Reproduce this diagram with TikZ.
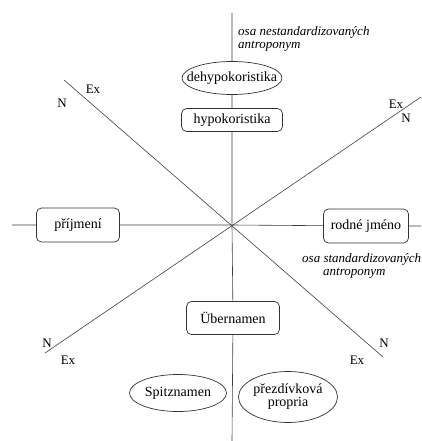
\documentclass[tikz,border=0pt]{standalone}
\usepackage{fontspec}
\setmainfont{Liberation Serif}
\usetikzlibrary{shapes.geometric}
\begin{document}
\begin{tikzpicture}[x=1pt,y=-1pt,
  axis/.style={draw=black!75,line width=0.6pt},
  box/.style={draw=black!80,line width=0.7pt,rounded corners=5pt,fill=white,
    inner sep=0pt,font=\fontsize{14}{16}\selectfont},
  oval/.style={draw=black!80,line width=0.7pt,ellipse,fill=white,inner sep=0pt,
    font=\fontsize{14}{15}\selectfont},
  tag/.style={inner sep=0pt,font=\fontsize{13}{14}\selectfont},
  axisname/.style={inner sep=0pt,align=left,font=\fontsize{13}{13.5}\selectfont\itshape}
]
\useasboundingbox (0,0) rectangle (421,441);
\fill[white] (0,0) rectangle (421,441);

% axis end points
\coordinate (c)  at (232,225);
\coordinate (vt) at (232,13);
\coordinate (vb) at (232,441);
\coordinate (hl) at (12,225);
\coordinate (hr) at (421,226);
\coordinate (aUL) at (64,80);
\coordinate (aLR) at (383,357);
\coordinate (aLL) at (45,353);
\coordinate (aUR) at (421,97);

% diagonal axes
\draw[axis] (aUL) -- (aLR);
\draw[axis] (aLL) -- (aUR);

% nodes
\node[oval,minimum width=100pt,minimum height=33pt] (dehypo) at (232,78)
  {\makebox[0pt]{dehypokoristika}};
\node[box,minimum width=101pt,minimum height=23pt] (hypo) at (232,120) {hypokoristika};
\node[box,minimum width=83pt,minimum height=34pt] (prij) at (78,225) {příjmení};
\node[box,minimum width=85pt,minimum height=34pt] (rodne) at (366,226) {rodné jméno};
\node[box,minimum width=93pt,minimum height=33pt] (uber) at (233,318) {Übernamen};
\node[oval,minimum width=97pt,minimum height=37pt] (spitz) at (178,393)
  {\makebox[0pt]{Spitznamen}};
\node[oval,minimum width=99pt,minimum height=51pt] (prezd) at (288,397)
  {\makebox[0pt]{\begin{tabular}{@{}c@{}}přezdívková\\[-2pt]propria\end{tabular}}};

% vertical and horizontal axes through the nodes
\draw[axis] (vt) -- (dehypo) (dehypo) -- (hypo) (hypo) -- (c) -- (uber) (uber) -- (vb);
\draw[axis] (hl) -- (prij) (prij) -- (c) -- (rodne) (rodne) -- (hr);

% end labels of the diagonals
\node[tag] (ex1) at (93,89) {Ex};
\node[tag] (n1)  at (62,103) {N};
\node[tag] (ex2) at (396,104) {Ex};
\node[tag] (n2)  at (406,118) {N};
\node[tag] (n3)  at (47,343) {N};
\node[tag] (ex3) at (68,360) {Ex};
\node[tag] (n4)  at (384,343) {N};
\node[tag] (ex4) at (357,360) {Ex};

% axis names
\node[axisname,anchor=north west] (nonstd) at (238,26)
  {osa nestandardizovaných\\antroponym};
\node[axisname,anchor=north west] (std) at (302,253)
  {osa standardizovaných\\\hspace*{21pt}antroponym};
\end{tikzpicture}
\end{document}
